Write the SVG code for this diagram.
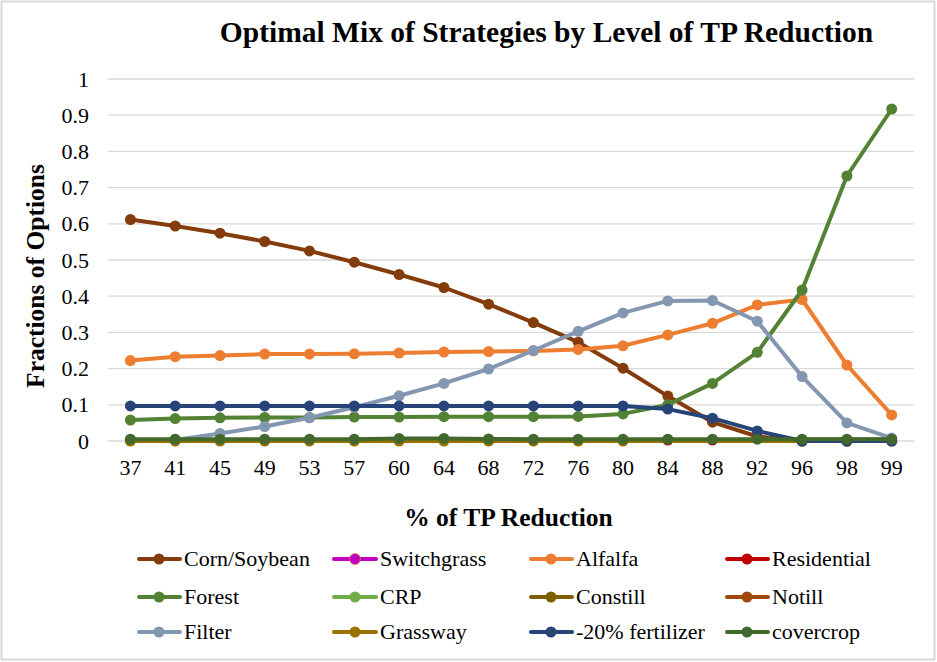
<svg xmlns="http://www.w3.org/2000/svg" width="937" height="662" viewBox="0 0 937 662" font-family="Liberation Serif">
<rect x="1.5" y="1.5" width="933" height="658" fill="#fff" stroke="#d9d9d9" stroke-width="2"/>
<text x="546.5" y="42" font-weight="bold" font-size="29.5" text-anchor="middle" fill="#000">Optimal Mix of Strategies by Level of TP Reduction</text>
<g id="grid" stroke="#d9d9d9" stroke-width="1.3">
<line x1="108" y1="79" x2="914" y2="79"/>
<line x1="108" y1="115.2" x2="914" y2="115.2"/>
<line x1="108" y1="151.4" x2="914" y2="151.4"/>
<line x1="108" y1="187.6" x2="914" y2="187.6"/>
<line x1="108" y1="223.8" x2="914" y2="223.8"/>
<line x1="108" y1="260" x2="914" y2="260"/>
<line x1="108" y1="296.2" x2="914" y2="296.2"/>
<line x1="108" y1="332.4" x2="914" y2="332.4"/>
<line x1="108" y1="368.6" x2="914" y2="368.6"/>
<line x1="108" y1="404.8" x2="914" y2="404.8"/>
<line x1="108" y1="441" x2="914" y2="441"/>
</g>
<g id="y-ticks" font-size="22" text-anchor="end" fill="#000">
<text x="89" y="86.5">1</text>
<text x="89" y="122.7">0.9</text>
<text x="89" y="158.9">0.8</text>
<text x="89" y="195.1">0.7</text>
<text x="89" y="231.3">0.6</text>
<text x="89" y="267.5">0.5</text>
<text x="89" y="303.7">0.4</text>
<text x="89" y="339.9">0.3</text>
<text x="89" y="376.1">0.2</text>
<text x="89" y="412.3">0.1</text>
<text x="89" y="448.5">0</text>
</g>
<g id="x-ticks" font-size="22" text-anchor="middle" fill="#000">
<text x="130.4" y="474.5">37</text>
<text x="175.2" y="474.5">41</text>
<text x="220" y="474.5">45</text>
<text x="264.7" y="474.5">49</text>
<text x="309.5" y="474.5">53</text>
<text x="354.3" y="474.5">57</text>
<text x="399.1" y="474.5">60</text>
<text x="443.9" y="474.5">64</text>
<text x="488.6" y="474.5">68</text>
<text x="533.4" y="474.5">72</text>
<text x="578.2" y="474.5">76</text>
<text x="623" y="474.5">80</text>
<text x="667.8" y="474.5">84</text>
<text x="712.5" y="474.5">88</text>
<text x="757.3" y="474.5">92</text>
<text x="802.1" y="474.5">96</text>
<text x="846.9" y="474.5">98</text>
<text x="891.7" y="474.5">99</text>
</g>
<g id="axis-titles" font-weight="bold" font-size="25.5" text-anchor="middle" fill="#000">
<text x="508.5" y="525.5">% of TP Reduction</text>
<text transform="translate(43.5,276) rotate(-90)">Fractions of Options</text>
</g>

<g id="series" fill="none" stroke-width="4" stroke-linejoin="round" stroke-linecap="round">
<g id="corn-soybean" stroke="#843C0C">
<polyline points="130.4,219.5 175.2,226 220,233.2 264.7,241.5 309.5,250.9 354.3,262.2 399.1,274.5 443.9,287.5 488.6,304.2 533.4,322.6 578.2,342.2 623,368.2 667.8,396.1 712.5,422.2 757.3,436.5 802.1,441 846.9,441 891.7,441"/>
<g stroke="none" fill="#843C0C"><circle cx="130.4" cy="219.5" r="5.5"/><circle cx="175.2" cy="226" r="5.5"/><circle cx="220" cy="233.2" r="5.5"/><circle cx="264.7" cy="241.5" r="5.5"/><circle cx="309.5" cy="250.9" r="5.5"/><circle cx="354.3" cy="262.2" r="5.5"/><circle cx="399.1" cy="274.5" r="5.5"/><circle cx="443.9" cy="287.5" r="5.5"/><circle cx="488.6" cy="304.2" r="5.5"/><circle cx="533.4" cy="322.6" r="5.5"/><circle cx="578.2" cy="342.2" r="5.5"/><circle cx="623" cy="368.2" r="5.5"/><circle cx="667.8" cy="396.1" r="5.5"/><circle cx="712.5" cy="422.2" r="5.5"/><circle cx="757.3" cy="436.5" r="5.5"/><circle cx="802.1" cy="441" r="5.5"/><circle cx="846.9" cy="441" r="5.5"/><circle cx="891.7" cy="441" r="5.5"/></g>
</g>
<g id="switchgrass" stroke="#C000C0">
<polyline stroke-width="2" points="130.4,441 175.2,441 220,441 264.7,441 309.5,441 354.3,441 399.1,441 443.9,441 488.6,441 533.4,441 578.2,441 623,441 667.8,440.5 712.5,439.5 757.3,439.5 802.1,441 846.9,441 891.7,441"/>
</g>
<g id="alfalfa" stroke="#ED7D31">
<polyline points="130.4,360.6 175.2,356.7 220,355.6 264.7,354.1 309.5,354.1 354.3,353.8 399.1,353 443.9,352 488.6,351.6 533.4,350.9 578.2,349.4 623,345.8 667.8,334.9 712.5,323.3 757.3,304.9 802.1,299.5 846.9,365 891.7,414.9"/>
<g stroke="none" fill="#ED7D31"><circle cx="130.4" cy="360.6" r="5.5"/><circle cx="175.2" cy="356.7" r="5.5"/><circle cx="220" cy="355.6" r="5.5"/><circle cx="264.7" cy="354.1" r="5.5"/><circle cx="309.5" cy="354.1" r="5.5"/><circle cx="354.3" cy="353.8" r="5.5"/><circle cx="399.1" cy="353" r="5.5"/><circle cx="443.9" cy="352" r="5.5"/><circle cx="488.6" cy="351.6" r="5.5"/><circle cx="533.4" cy="350.9" r="5.5"/><circle cx="578.2" cy="349.4" r="5.5"/><circle cx="623" cy="345.8" r="5.5"/><circle cx="667.8" cy="334.9" r="5.5"/><circle cx="712.5" cy="323.3" r="5.5"/><circle cx="757.3" cy="304.9" r="5.5"/><circle cx="802.1" cy="299.5" r="5.5"/><circle cx="846.9" cy="365" r="5.5"/><circle cx="891.7" cy="414.9" r="5.5"/></g>
</g>
<g id="residential" stroke="#C00000">
<polyline points="130.4,441 175.2,441 220,441 264.7,441 309.5,441 354.3,441 399.1,441 443.9,441 488.6,441 533.4,441 578.2,441 623,441 667.8,440 712.5,440 757.3,440.5 802.1,441 846.9,441 891.7,441"/>
<g stroke="none" fill="#C00000"><circle cx="667.8" cy="440" r="5.5"/><circle cx="712.5" cy="440" r="5.5"/></g>
</g>
<g id="forest" stroke="#548235">
<polyline points="130.4,420 175.2,418.6 220,417.8 264.7,417.5 309.5,417.5 354.3,417.1 399.1,417.1 443.9,416.7 488.6,416.7 533.4,416.7 578.2,416.4 623,413.9 667.8,404.8 712.5,383.4 757.3,352.3 802.1,290 846.9,176 891.7,109"/>
<g stroke="none" fill="#548235"><circle cx="130.4" cy="420" r="5.5"/><circle cx="175.2" cy="418.6" r="5.5"/><circle cx="220" cy="417.8" r="5.5"/><circle cx="264.7" cy="417.5" r="5.5"/><circle cx="309.5" cy="417.5" r="5.5"/><circle cx="354.3" cy="417.1" r="5.5"/><circle cx="399.1" cy="417.1" r="5.5"/><circle cx="443.9" cy="416.7" r="5.5"/><circle cx="488.6" cy="416.7" r="5.5"/><circle cx="533.4" cy="416.7" r="5.5"/><circle cx="578.2" cy="416.4" r="5.5"/><circle cx="623" cy="413.9" r="5.5"/><circle cx="667.8" cy="404.8" r="5.5"/><circle cx="712.5" cy="383.4" r="5.5"/><circle cx="757.3" cy="352.3" r="5.5"/><circle cx="802.1" cy="290" r="5.5"/><circle cx="846.9" cy="176" r="5.5"/><circle cx="891.7" cy="109" r="5.5"/></g>
</g>
<g id="crp" stroke="#70AD47">
<polyline points="130.4,441 175.2,441 220,441 264.7,441 309.5,441 354.3,441 399.1,441 443.9,441 488.6,441 533.4,441 578.2,441 623,441 667.8,441 712.5,441 757.3,439.8 802.1,439.3 846.9,439.3 891.7,439.3"/>
</g>
<g id="constill" stroke="#7F6000">
<polyline points="130.4,441 175.2,441 220,441 264.7,441 309.5,441 354.3,441 399.1,441 443.9,441 488.6,441 533.4,441 578.2,441 623,441 667.8,441 712.5,441 757.3,441 802.1,441 846.9,441 891.7,441"/>
</g>
<g id="notill" stroke="#9E480E">
<polyline points="130.4,441 175.2,441 220,441 264.7,441 309.5,441 354.3,441 399.1,441 443.9,441 488.6,441 533.4,441 578.2,441 623,441 667.8,440 712.5,440 757.3,441 802.1,441 846.9,441 891.7,441"/>
</g>
<g id="filter" stroke="#8497B0">
<polyline points="130.4,440 175.2,440 220,433.4 264.7,426.5 309.5,417.8 354.3,407.3 399.1,395.8 443.9,383.4 488.6,369 533.4,350.5 578.2,331.3 623,312.9 667.8,300.9 712.5,300.5 757.3,321.2 802.1,376.6 846.9,422.9 891.7,438.1"/>
<g stroke="none" fill="#8497B0"><circle cx="130.4" cy="440" r="5.5"/><circle cx="175.2" cy="440" r="5.5"/><circle cx="220" cy="433.4" r="5.5"/><circle cx="264.7" cy="426.5" r="5.5"/><circle cx="309.5" cy="417.8" r="5.5"/><circle cx="354.3" cy="407.3" r="5.5"/><circle cx="399.1" cy="395.8" r="5.5"/><circle cx="443.9" cy="383.4" r="5.5"/><circle cx="488.6" cy="369" r="5.5"/><circle cx="533.4" cy="350.5" r="5.5"/><circle cx="578.2" cy="331.3" r="5.5"/><circle cx="623" cy="312.9" r="5.5"/><circle cx="667.8" cy="300.9" r="5.5"/><circle cx="712.5" cy="300.5" r="5.5"/><circle cx="757.3" cy="321.2" r="5.5"/><circle cx="802.1" cy="376.6" r="5.5"/><circle cx="846.9" cy="422.9" r="5.5"/><circle cx="891.7" cy="438.1" r="5.5"/></g>
</g>
<g id="grassway" stroke="#997300">
<polyline points="130.4,441 175.2,441 220,441 264.7,441 309.5,441 354.3,441 399.1,441 443.9,441 488.6,441 533.4,441 578.2,441 623,441 667.8,441 712.5,441 757.3,441 802.1,441 846.9,441 891.7,441"/>
<g stroke="none" fill="#997300"><circle cx="130.4" cy="441" r="5.5"/><circle cx="175.2" cy="441" r="5.5"/><circle cx="220" cy="441" r="5.5"/><circle cx="264.7" cy="441" r="5.5"/><circle cx="309.5" cy="441" r="5.5"/><circle cx="354.3" cy="441" r="5.5"/><circle cx="399.1" cy="441" r="5.5"/><circle cx="443.9" cy="441" r="5.5"/><circle cx="488.6" cy="441" r="5.5"/><circle cx="533.4" cy="441" r="5.5"/><circle cx="578.2" cy="441" r="5.5"/><circle cx="623" cy="441" r="5.5"/><circle cx="802.1" cy="441" r="5.5"/><circle cx="846.9" cy="441" r="5.5"/></g>
</g>
<g id="fertilizer" stroke="#264478">
<polyline points="130.4,405.9 175.2,405.9 220,405.9 264.7,405.9 309.5,405.9 354.3,405.9 399.1,405.9 443.9,405.9 488.6,405.9 533.4,405.9 578.2,405.9 623,405.9 667.8,409.1 712.5,418.2 757.3,430.9 802.1,441 846.9,441 891.7,441"/>
<g stroke="none" fill="#264478"><circle cx="130.4" cy="405.9" r="5.5"/><circle cx="175.2" cy="405.9" r="5.5"/><circle cx="220" cy="405.9" r="5.5"/><circle cx="264.7" cy="405.9" r="5.5"/><circle cx="309.5" cy="405.9" r="5.5"/><circle cx="354.3" cy="405.9" r="5.5"/><circle cx="399.1" cy="405.9" r="5.5"/><circle cx="443.9" cy="405.9" r="5.5"/><circle cx="488.6" cy="405.9" r="5.5"/><circle cx="533.4" cy="405.9" r="5.5"/><circle cx="578.2" cy="405.9" r="5.5"/><circle cx="623" cy="405.9" r="5.5"/><circle cx="667.8" cy="409.1" r="5.5"/><circle cx="712.5" cy="418.2" r="5.5"/><circle cx="757.3" cy="430.9" r="5.5"/><circle cx="802.1" cy="441" r="5.5"/><circle cx="846.9" cy="441" r="5.5"/><circle cx="891.7" cy="441" r="5.5"/></g>
</g>
<g id="covercrop" stroke="#43682B">
<polyline points="130.4,439.2 175.2,439.2 220,439.2 264.7,439.2 309.5,439.2 354.3,439.2 399.1,438.4 443.9,438.4 488.6,439 533.4,439.2 578.2,439.2 623,439.2 667.8,439.2 712.5,439.2 757.3,439.2 802.1,439.2 846.9,439.2 891.7,439.2"/>
<g stroke="none" fill="#43682B"><circle cx="130.4" cy="439.2" r="5.5"/><circle cx="175.2" cy="439.2" r="5.5"/><circle cx="220" cy="439.2" r="5.5"/><circle cx="264.7" cy="439.2" r="5.5"/><circle cx="309.5" cy="439.2" r="5.5"/><circle cx="354.3" cy="439.2" r="5.5"/><circle cx="399.1" cy="438.4" r="5.5"/><circle cx="443.9" cy="438.4" r="5.5"/><circle cx="488.6" cy="439" r="5.5"/><circle cx="533.4" cy="439.2" r="5.5"/><circle cx="578.2" cy="439.2" r="5.5"/><circle cx="623" cy="439.2" r="5.5"/><circle cx="667.8" cy="439.2" r="5.5"/><circle cx="712.5" cy="439.2" r="5.5"/><circle cx="757.3" cy="439.2" r="5.5"/><circle cx="802.1" cy="439.2" r="5.5"/><circle cx="846.9" cy="439.2" r="5.5"/><circle cx="891.7" cy="439.2" r="5.5"/></g>
</g>
</g>

<g id="legend" font-size="22" fill="#000" stroke-width="4" stroke-linecap="round">
<g id="lg-corn"><line x1="139" y1="559" x2="180" y2="559" stroke="#843C0C"/><circle cx="159" cy="559" r="5.5" fill="#843C0C" stroke="none"/><text x="184" y="566">Corn/Soybean</text></g>
<g id="lg-switchgrass"><line x1="334" y1="559" x2="376" y2="559" stroke="#C000C0"/><circle cx="355" cy="559" r="5.5" fill="#C000C0" stroke="#ED7D31" stroke-width="0.6"/><text x="380" y="566">Switchgrass</text></g>
<g id="lg-alfalfa"><line x1="531" y1="559" x2="572" y2="559" stroke="#ED7D31"/><circle cx="551" cy="559" r="5.5" fill="#ED7D31" stroke="none"/><text x="576" y="566">Alfalfa</text></g>
<g id="lg-residential"><line x1="727" y1="559" x2="768" y2="559" stroke="#C00000"/><circle cx="747" cy="559" r="5.5" fill="#C00000" stroke="none"/><text x="772" y="566">Residential</text></g>
<g id="lg-forest"><line x1="139" y1="597" x2="180" y2="597" stroke="#548235"/><circle cx="159" cy="597" r="5.5" fill="#548235" stroke="none"/><text x="184" y="604">Forest</text></g>
<g id="lg-crp"><line x1="334" y1="597" x2="376" y2="597" stroke="#70AD47"/><circle cx="355" cy="597" r="5.5" fill="#70AD47" stroke="none"/><text x="380" y="604">CRP</text></g>
<g id="lg-constill"><line x1="531" y1="597" x2="572" y2="597" stroke="#7F6000"/><circle cx="551" cy="597" r="5.5" fill="#7F6000" stroke="none"/><text x="576" y="604">Constill</text></g>
<g id="lg-notill"><line x1="727" y1="597" x2="768" y2="597" stroke="#9E480E"/><circle cx="747" cy="597" r="5.5" fill="#9E480E" stroke="none"/><text x="772" y="604">Notill</text></g>
<g id="lg-filter"><line x1="139" y1="632" x2="180" y2="632" stroke="#8497B0"/><circle cx="159" cy="632" r="5.5" fill="#8497B0" stroke="none"/><text x="184" y="639">Filter</text></g>
<g id="lg-grassway"><line x1="334" y1="632" x2="376" y2="632" stroke="#997300"/><circle cx="355" cy="632" r="5.5" fill="#997300" stroke="none"/><text x="380" y="639">Grassway</text></g>
<g id="lg-fertilizer"><line x1="531" y1="632" x2="572" y2="632" stroke="#264478"/><circle cx="551" cy="632" r="5.5" fill="#264478" stroke="none"/><text x="576" y="639">-20% fertilizer</text></g>
<g id="lg-covercrop"><line x1="727" y1="632" x2="768" y2="632" stroke="#43682B"/><circle cx="747" cy="632" r="5.5" fill="#43682B" stroke="none"/><text x="772" y="639">covercrop</text></g>
</g>
</svg>
